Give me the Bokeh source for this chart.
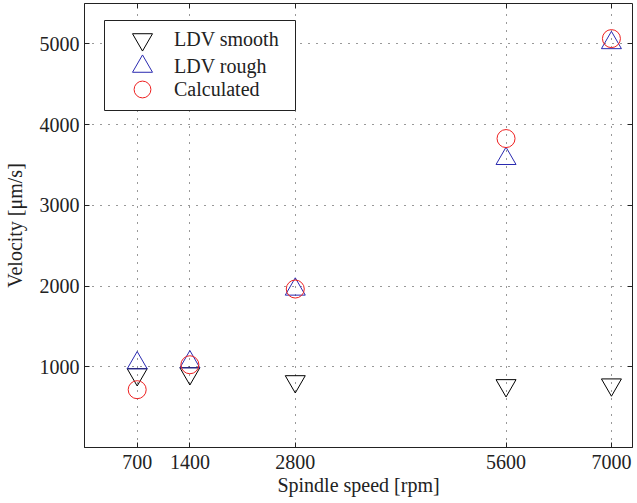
from bokeh.plotting import figure
from bokeh.models import (Range1d, FixedTicker, LinearAxis, Legend, LegendItem,
                          BoxAnnotation, CustomLabelingPolicy)
from bokeh.embed import file_html
from bokeh.resources import INLINE

# ---- data ----
speeds = [700, 1400, 2800, 5600, 7000]
ldv_smooth = [905, 917, 818, 769, 778]
ldv_rough = [1046, 1058, 1959, 3577, 5012]
calculated = [716, 1025, 1963, 3827, 5065]
x_ticks = [700, 1400, 2800, 5600, 7000]
y_ticks = [1000, 2000, 3000, 4000, 5000]

FONT = "Liberation Serif"
INK = "#222222"

p = figure(width=637, height=503, output_backend="svg", toolbar_location=None,
           x_range=Range1d(0, 7280), y_range=Range1d(0, 5500),
           min_border_left=82, min_border_right=5, min_border_top=3,
           min_border_bottom=56)

p.background_fill_color = "white"
p.border_fill_color = "white"
p.outline_line_color = INK
p.outline_line_width = 1
p.outline_line_alpha = 1

p.xaxis.ticker = FixedTicker(ticks=x_ticks)
p.yaxis.ticker = FixedTicker(ticks=y_ticks)
for ax in (p.xaxis[0], p.yaxis[0]):
    ax.major_tick_in = 5
    ax.major_tick_out = 0
    ax.minor_tick_line_color = None
    ax.major_tick_line_color = INK
    ax.axis_line_color = INK
    ax.major_label_text_font = FONT
    ax.major_label_text_font_size = "20px"
    ax.major_label_text_color = INK
    ax.axis_label_text_font = FONT
    ax.axis_label_text_font_size = "20px"
    ax.axis_label_text_font_style = "normal"
    ax.axis_label_text_color = INK

p.xaxis.axis_label = "Spindle speed [rpm]"
p.yaxis.axis_label = "Velocity [μm/s]"
p.xaxis.major_label_standoff = 7
p.xaxis.axis_label_standoff = 2
p.yaxis.major_label_standoff = 5
p.yaxis.axis_label_standoff = 11

# mirrored ticks on top and right (box on), without labels
no_labels = "return new indices.constructor(indices.size, 0)"
top_ax = LinearAxis(ticker=FixedTicker(ticks=x_ticks), major_label_text_font_size="0px",
                    major_label_policy=CustomLabelingPolicy(code=no_labels),
                    major_tick_in=5, major_tick_out=0, minor_tick_line_color=None,
                    axis_line_color=None, major_tick_line_color=INK,
                    major_label_standoff=0)
right_ax = LinearAxis(ticker=FixedTicker(ticks=y_ticks), major_label_text_font_size="0px",
                      major_label_policy=CustomLabelingPolicy(code=no_labels),
                      major_tick_in=5, major_tick_out=0, minor_tick_line_color=None,
                      axis_line_color=None, major_tick_line_color=INK,
                      major_label_standoff=0)
p.add_layout(top_ax, "above")
p.add_layout(right_ax, "right")

for g in (p.xgrid[0], p.ygrid[0]):
    g.grid_line_color = "#333333"
    g.grid_line_dash = "1 7"
    g.grid_line_width = 1

r_smooth = p.scatter(speeds, ldv_smooth, marker="inverted_triangle", size=20,
                     fill_color=None, line_color="black", line_width=1)
r_rough = p.scatter(speeds, ldv_rough, marker="triangle", size=20,
                    fill_color=None, line_color="#2a2ab0", line_width=1)
r_calc = p.scatter(speeds, calculated, marker="circle", size=18,
                   fill_color=None, line_color="#ee2020", line_width=1)

# legend frame (screen units relative to the plot frame)
box = BoxAnnotation(left=20, right=211, bottom=337, top=427,
                    left_units="screen", right_units="screen",
                    bottom_units="screen", top_units="screen",
                    fill_color="white", fill_alpha=1,
                    line_color=INK, line_width=1, line_alpha=1)
p.add_layout(box)

entries = [("LDV smooth", r_smooth, 50, 383),
           ("LDV rough", r_rough, 50, 356),
           ("Calculated", r_calc, 42, 337)]
for label, rend, gh, ybot in entries:
    leg = Legend(items=[LegendItem(label=label, renderers=[rend])],
                 location=(33, ybot), padding=0, spacing=0, margin=0,
                 glyph_width=50, glyph_height=gh, label_height=gh,
                 label_standoff=7,
                 label_text_font=FONT, label_text_font_size="20px",
                 label_text_color=INK,
                 border_line_color=None, background_fill_alpha=0)
    p.add_layout(leg)

open("out.html", "w").write(file_html(p, INLINE))
